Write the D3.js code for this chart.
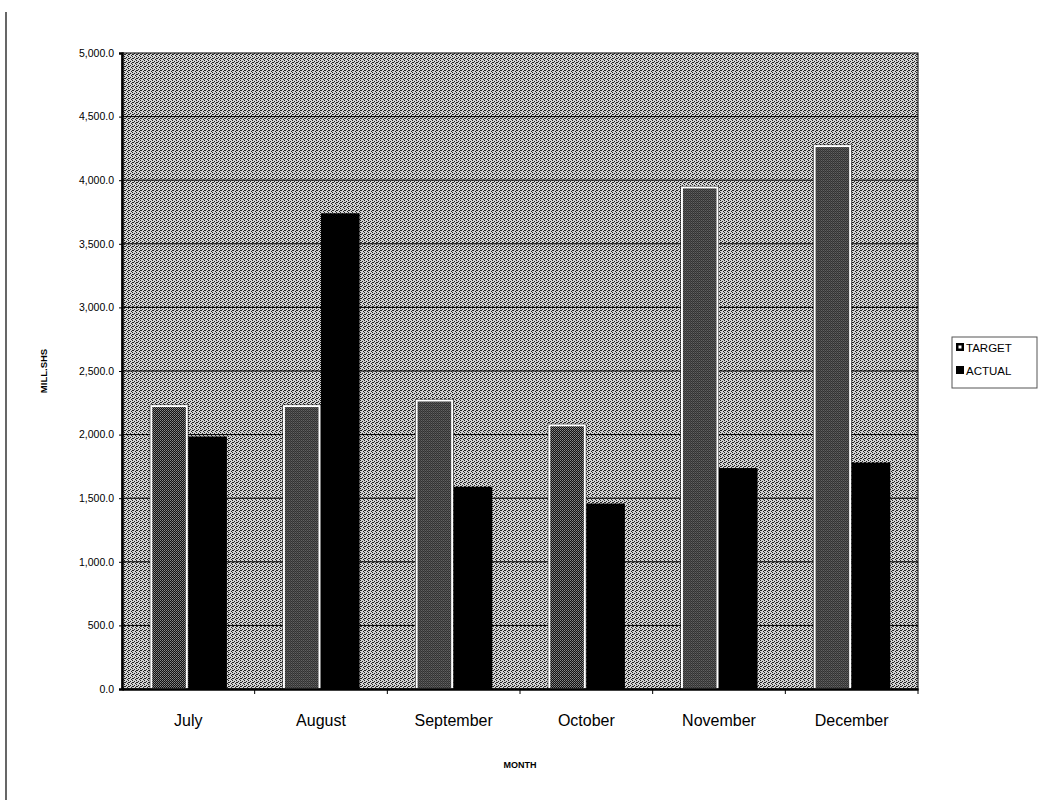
<!DOCTYPE html>
<html>
<head>
<meta charset="utf-8">
<script src="https://cdn.jsdelivr.net/npm/d3@7"></script>
<style>
body { margin: 0; background: #fff; }
svg { display: block; font-family: "Liberation Sans", Arial, sans-serif; }
</style>
</head>
<body>
<svg id="chart" width="1042" height="800"></svg>
<script>
var months = ['July', 'August', 'September', 'October', 'November', 'December'];
var seriesNames = ['TARGET', 'ACTUAL'];
var targetValues = [2236, 2236, 2280, 2085, 3955, 4280];
var actualValues = [1985, 3740, 1590, 1458, 1737, 1780];
var yTicks = [0, 500, 1000, 1500, 2000, 2500, 3000, 3500, 4000, 4500, 5000];

var plotLeft = 122, plotRight = 918, plotTop = 53, plotBottom = 689;

var svg = d3.select('#chart');
var defs = svg.append('defs');

// dithered textures like the scanned original
var bgPat = defs.append('pattern').attr('id', 'bgDither')
    .attr('width', 4).attr('height', 4).attr('patternUnits', 'userSpaceOnUse');
bgPat.append('rect').attr('width', 4).attr('height', 4).attr('fill', '#d2d2d2');
[[0, 0], [2, 1], [1, 2], [3, 3], [0, 2]].forEach(function(p) {
    bgPat.append('rect').attr('x', p[0]).attr('y', p[1]).attr('width', 1).attr('height', 1).attr('fill', '#222');
});

var tgPat = defs.append('pattern').attr('id', 'targetDither')
    .attr('width', 2).attr('height', 2).attr('patternUnits', 'userSpaceOnUse');
tgPat.append('rect').attr('width', 2).attr('height', 2).attr('fill', '#111');
tgPat.append('rect').attr('x', 0).attr('y', 0).attr('width', 1).attr('height', 1).attr('fill', '#8a8a8a');
tgPat.append('rect').attr('x', 1).attr('y', 1).attr('width', 1).attr('height', 1).attr('fill', '#6a6a6a');

var x0 = d3.scaleBand().domain(months).range([plotLeft, plotRight]).padding(0);
var x1 = d3.scaleBand().domain(seriesNames).range([0, x0.bandwidth()])
    .paddingInner(0).paddingOuter(0.72);
var y = d3.scaleLinear().domain([0, 5000]).range([plotBottom, plotTop]);

// scan margin line on the left
svg.append('line').attr('x1', 6).attr('x2', 6).attr('y1', 12).attr('y2', 800)
    .attr('stroke', '#000').attr('stroke-width', 1.2);

// plot background
svg.append('rect')
    .attr('x', plotLeft).attr('y', plotTop)
    .attr('width', plotRight - plotLeft).attr('height', plotBottom - plotTop)
    .attr('fill', 'url(#bgDither)');

// gridlines
svg.append('g').selectAll('line')
    .data(yTicks.slice(1, -1))
    .join('line')
    .attr('x1', plotLeft).attr('x2', plotRight)
    .attr('y1', function(d) { return y(d); })
    .attr('y2', function(d) { return y(d); })
    .attr('stroke', '#000').attr('stroke-width', 1);

var rows = months.map(function(m, i) {
    return { month: m, TARGET: targetValues[i], ACTUAL: actualValues[i] };
});

var groups = svg.append('g').selectAll('g')
    .data(rows)
    .join('g')
    .attr('transform', function(d) { return 'translate(' + x0(d.month) + ',0)'; });

// target bars: dithered with white inner border and black edge
groups.append('rect')
    .attr('x', x1('TARGET'))
    .attr('y', function(d) { return y(d.TARGET); })
    .attr('width', x1.bandwidth())
    .attr('height', function(d) { return y(0) - y(d.TARGET); })
    .attr('fill', '#000');
groups.append('rect')
    .attr('x', x1('TARGET') + 1.5)
    .attr('y', function(d) { return y(d.TARGET) + 1.5; })
    .attr('width', x1.bandwidth() - 3)
    .attr('height', function(d) { return y(0) - y(d.TARGET) - 1.5; })
    .attr('fill', 'url(#targetDither)')
    .attr('stroke', '#fff').attr('stroke-width', 2);

// actual bars: solid black
groups.append('rect')
    .attr('x', x1('ACTUAL'))
    .attr('y', function(d) { return y(d.ACTUAL); })
    .attr('width', x1.bandwidth())
    .attr('height', function(d) { return y(0) - y(d.ACTUAL); })
    .attr('fill', '#000');

// plot border
svg.append('rect')
    .attr('x', plotLeft).attr('y', plotTop)
    .attr('width', plotRight - plotLeft).attr('height', plotBottom - plotTop)
    .attr('fill', 'none').attr('stroke', '#000').attr('stroke-width', 1);

// y axis
var yAxis = d3.axisLeft(y).tickValues(yTicks).tickSize(3).tickPadding(5)
    .tickFormat(d3.format(',.1f'));
var yG = svg.append('g').attr('transform', 'translate(' + plotLeft + ',0)').call(yAxis);
yG.select('.domain').attr('stroke-width', 2.5);
yG.selectAll('text').attr('font-size', 10.5).attr('fill', '#000')
    .attr('font-family', '"Liberation Sans", Arial, sans-serif');

// x axis
var xAxis = d3.axisBottom(x0).tickSize(0).tickPadding(26);
var xG = svg.append('g').attr('transform', 'translate(0,' + plotBottom + ')').call(xAxis);
xG.select('.domain').attr('stroke-width', 2.5);
xG.selectAll('text').attr('font-size', 16).attr('fill', '#000')
    .attr('font-family', '"Liberation Sans", Arial, sans-serif');

// category separator ticks
svg.append('g').selectAll('line')
    .data(months)
    .join('line')
    .attr('x1', function(d) { return x0(d) + x0.bandwidth(); })
    .attr('x2', function(d) { return x0(d) + x0.bandwidth(); })
    .attr('y1', plotBottom).attr('y2', plotBottom + 5)
    .attr('stroke', '#000');

// axis titles
svg.append('text')
    .attr('transform', 'translate(47,' + ((plotTop + plotBottom) / 2) + ') rotate(-90)')
    .attr('text-anchor', 'middle')
    .attr('font-size', 9.5).attr('font-weight', 'bold')
    .text('MILL.SHS');

svg.append('text')
    .attr('x', (plotLeft + plotRight) / 2).attr('y', 768)
    .attr('text-anchor', 'middle')
    .attr('font-size', 9).attr('font-weight', 'bold')
    .text('MONTH');

// legend
var legend = svg.append('g').attr('transform', 'translate(952,337)');
legend.append('rect').attr('width', 85).attr('height', 51)
    .attr('fill', '#fff').attr('stroke', '#555').attr('stroke-width', 1);
var items = legend.selectAll('g.item')
    .data(seriesNames)
    .join('g')
    .attr('class', 'item')
    .attr('transform', function(d, i) { return 'translate(4,' + (11 + i * 23) + ')'; });
items.append('rect')
    .attr('x', 0).attr('y', -5).attr('width', 8).attr('height', 8)
    .attr('fill', '#000');
items.filter(function(d) { return d === 'TARGET'; }).append('rect')
    .attr('x', 2.5).attr('y', -2.5).attr('width', 3).attr('height', 3).attr('fill', '#fff');
items.append('text')
    .attr('x', 10).attr('y', 4)
    .attr('font-size', 11.5)
    .text(function(d) { return d; });
</script>
</body>
</html>
